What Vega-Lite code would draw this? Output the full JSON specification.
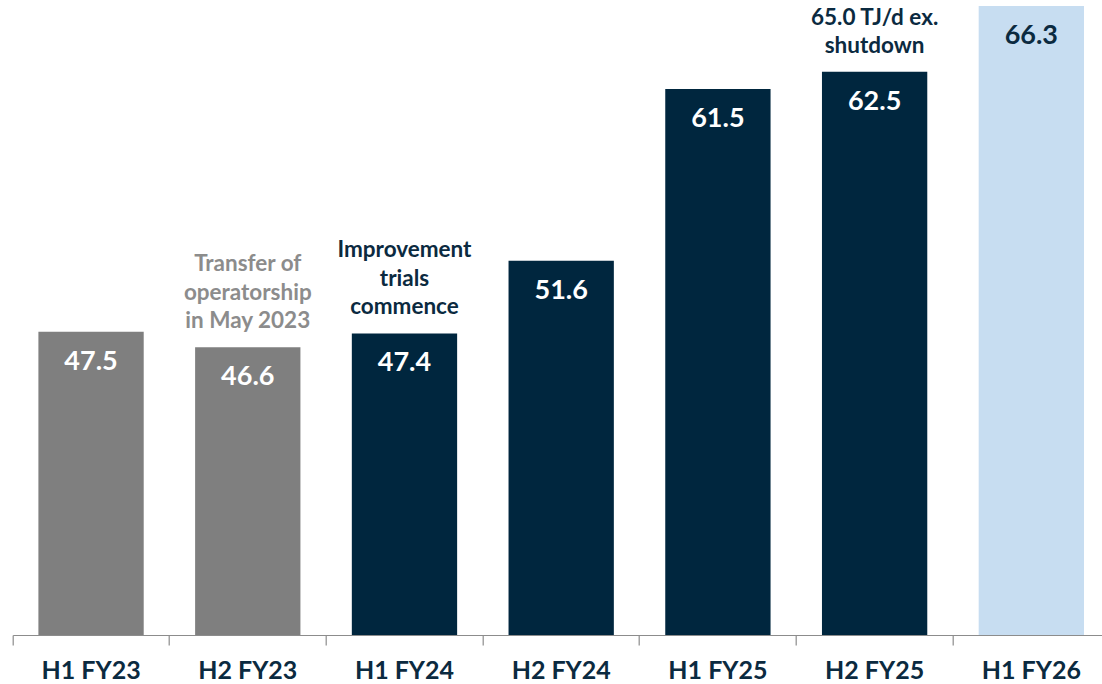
{
  "$schema": "https://vega.github.io/schema/vega-lite/v6.json",
  "width": 1097,
  "height": 635,
  "autosize": "none",
  "padding": {"left": 12.7, "top": 0, "right": 0, "bottom": 49},
  "background": "white",
  "config": {"view": {"stroke": null}, "font": "Lato"},
  "data": {
    "values": [
      {"period": "H1 FY23", "value": 47.5, "group": "past", "note": null},
      {"period": "H2 FY23", "value": 46.6, "group": "past", "note": ["Transfer of", "operatorship", "in May 2023"]},
      {"period": "H1 FY24", "value": 47.4, "group": "current", "note": ["Improvement", "trials", "commence"]},
      {"period": "H2 FY24", "value": 51.6, "group": "current", "note": null},
      {"period": "H1 FY25", "value": 61.5, "group": "current", "note": null},
      {"period": "H2 FY25", "value": 62.5, "group": "current", "note": ["65.0 TJ/d ex.", "shutdown"]},
      {"period": "H1 FY26", "value": 66.3, "group": "latest", "note": null}
    ]
  },
  "encoding": {
    "x": {
      "field": "period",
      "type": "nominal",
      "sort": null,
      "scale": {"paddingInner": 0, "paddingOuter": 0},
      "axis": {
        "title": null,
        "labelAngle": 0,
        "bandPosition": 0,
        "domainColor": "#8c8c8c",
        "domainWidth": 1.2,
        "tickColor": "#8c8c8c",
        "tickSize": 10,
        "tickWidth": 1.2,
        "labelFont": "Lato",
        "labelFontSize": 25,
        "labelFontWeight": "bold",
        "labelColor": "#0b2a40",
        "labelPadding": 14
      }
    },
    "y": {
      "field": "value",
      "type": "quantitative",
      "scale": {"domain": [30, 66.64], "zero": false, "nice": false},
      "axis": null
    }
  },
  "layer": [
    {
      "mark": {"type": "bar", "width": {"band": 0.672}},
      "encoding": {
        "y2": {"datum": 30},
        "color": {
          "field": "group",
          "type": "nominal",
          "scale": {"domain": ["past", "current", "latest"], "range": ["#7f7f7f", "#00263e", "#c7ddf1"]},
          "legend": null
        }
      }
    },
    {
      "mark": {"type": "text", "baseline": "middle", "dy": 30, "font": "Lato", "fontSize": 27, "fontWeight": "bold"},
      "encoding": {
        "text": {"field": "value", "type": "quantitative", "format": ".1f"},
        "color": {"condition": {"test": "datum.group === 'latest'", "value": "#0b2a40"}, "value": "white"}
      }
    },
    {
      "transform": [{"filter": "datum.note != null && length(datum.note) === 3"}],
      "mark": {"type": "text", "baseline": "bottom", "dy": -71, "font": "Lato", "fontSize": 22.5, "fontWeight": "bold", "lineHeight": 28.5},
      "encoding": {
        "text": {"field": "note"},
        "color": {"condition": {"test": "datum.group === 'past'", "value": "#8c8c8c"}, "value": "#0b2a40"}
      }
    },
    {
      "transform": [{"filter": "datum.note != null && length(datum.note) === 2"}],
      "mark": {"type": "text", "baseline": "bottom", "dy": -42, "font": "Lato", "fontSize": 22.5, "fontWeight": "bold", "lineHeight": 28.5},
      "encoding": {
        "text": {"field": "note"},
        "color": {"condition": {"test": "datum.group === 'past'", "value": "#8c8c8c"}, "value": "#0b2a40"}
      }
    }
  ]
}
